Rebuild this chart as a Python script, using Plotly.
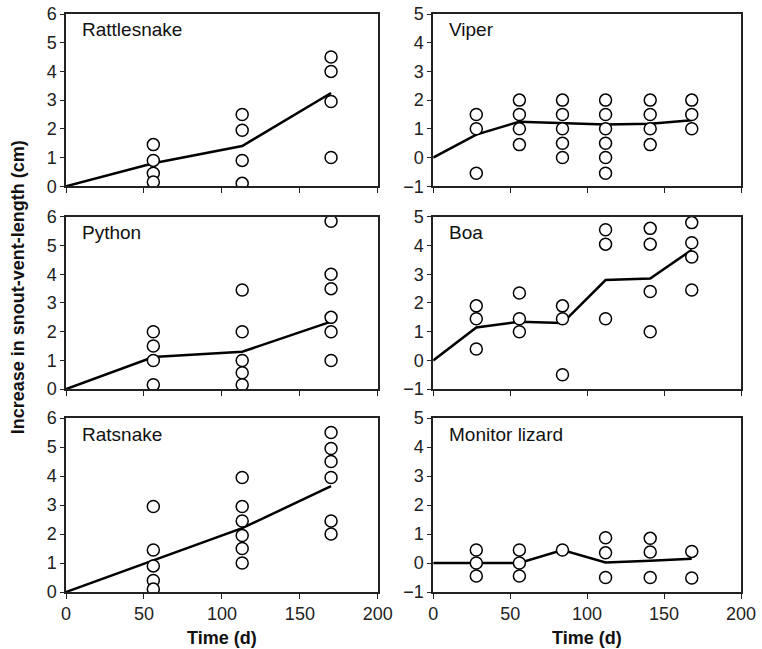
import plotly.graph_objects as go
from plotly.subplots import make_subplots

# individual measurements (day, increase in SVL cm)
rattle_x = [56, 56, 56, 56, 113, 113, 113, 113, 170, 170, 170, 170]
rattle_y = [1.45, 0.9, 0.45, 0.15, 2.5, 1.95, 0.9, 0.1, 4.5, 4.0, 2.95, 1.0]
rattle_mean_x = [0, 56, 113, 170]
rattle_mean_y = [0, 0.8, 1.4, 3.25]

viper_x = [28, 28, 28, 56, 56, 56, 56, 84, 84, 84, 84, 84,
           112, 112, 112, 112, 112, 112, 141, 141, 141, 141, 168, 168, 168]
viper_y = [1.5, 1.0, -0.55, 2.0, 1.5, 1.0, 0.45, 2.0, 1.5, 1.0, 0.5, 0.0,
           2.0, 1.5, 1.0, 0.5, 0.0, -0.55, 2.0, 1.5, 1.0, 0.45, 2.0, 1.5, 1.0]
viper_mean_x = [0, 28, 56, 84, 112, 141, 168]
viper_mean_y = [0, 0.8, 1.25, 1.2, 1.15, 1.18, 1.3]

python_x = [56, 56, 56, 56, 113, 113, 113, 113, 113, 170, 170, 170, 170, 170, 170]
python_y = [2.0, 1.5, 1.0, 0.15, 3.45, 2.0, 1.0, 0.57, 0.15, 5.85, 4.0, 3.5, 2.5, 2.0, 1.0]
python_mean_x = [0, 56, 113, 170]
python_mean_y = [0, 1.12, 1.3, 2.35]

boa_x = [28, 28, 28, 56, 56, 56, 84, 84, 84, 112, 112, 112,
         141, 141, 141, 141, 168, 168, 168, 168]
boa_y = [1.9, 1.45, 0.4, 2.35, 1.45, 1.0, 1.9, 1.45, -0.5, 4.55, 4.05, 1.45,
         4.6, 4.05, 2.4, 1.0, 4.8, 4.1, 3.6, 2.45]
boa_mean_x = [0, 28, 56, 84, 112, 141, 168]
boa_mean_y = [0, 1.15, 1.35, 1.3, 2.8, 2.85, 3.85]

rat_x = [56, 56, 56, 56, 56, 113, 113, 113, 113, 113, 113,
         170, 170, 170, 170, 170, 170]
rat_y = [2.95, 1.45, 0.9, 0.4, 0.1, 3.95, 2.95, 2.45, 1.95, 1.5, 1.0,
         5.5, 4.95, 4.5, 3.95, 2.45, 2.0]
rat_mean_x = [0, 56, 113, 170]
rat_mean_y = [0, 1.1, 2.2, 3.65]

monitor_x = [28, 28, 28, 56, 56, 56, 84, 112, 112, 112, 141, 141, 141, 168, 168]
monitor_y = [0.45, 0.0, -0.45, 0.45, 0.0, -0.45, 0.45, 0.87, 0.35, -0.5,
             0.85, 0.38, -0.5, 0.4, -0.52]
monitor_mean_x = [0, 28, 56, 84, 112, 141, 168]
monitor_mean_y = [0, 0, 0, 0.45, 0.02, 0.08, 0.15]

panels = [
    ("Rattlesnake", rattle_x, rattle_y, rattle_mean_x, rattle_mean_y, [0, 6], 1, 1),
    ("Viper", viper_x, viper_y, viper_mean_x, viper_mean_y, [-1, 5], 1, 2),
    ("Python", python_x, python_y, python_mean_x, python_mean_y, [0, 6], 2, 1),
    ("Boa", boa_x, boa_y, boa_mean_x, boa_mean_y, [-1, 5], 2, 2),
    ("Ratsnake", rat_x, rat_y, rat_mean_x, rat_mean_y, [0, 6], 3, 1),
    ("Monitor lizard", monitor_x, monitor_y, monitor_mean_x, monitor_mean_y, [-1, 5], 3, 2),
]

FONT = "Liberation Sans, Arial, sans-serif"

fig = make_subplots(rows=3, cols=2)

col_domains = {1: [0, 0.462], 2: [0.544, 1.0]}
row_domains = {1: [0.702, 1.0], 2: [0.351, 0.649], 3: [0.0, 0.301]}

for name, px, py, mx, my, yr, r, c in panels:
    fig.add_trace(go.Scatter(x=mx, y=my, mode="lines",
                             line=dict(color="black", width=2.5),
                             showlegend=False, hoverinfo="skip"), row=r, col=c)
    fig.add_trace(go.Scatter(x=px, y=py, mode="markers",
                             marker=dict(symbol="circle", size=12, color="white",
                                         line=dict(color="black", width=1.5)),
                             showlegend=False), row=r, col=c)
    fig.update_xaxes(range=[0, 200], tickvals=[0, 50, 100, 150, 200],
                     showticklabels=(r == 3), ticks="outside", ticklen=5,
                     tickcolor="#222", showline=True, linecolor="#222",
                     linewidth=1.5, mirror=True, showgrid=False, zeroline=False,
                     domain=col_domains[c], automargin=False,
                     tickfont=dict(family=FONT, size=18, color="#222"),
                     row=r, col=c)
    fig.update_yaxes(range=yr, dtick=1, ticks="outside", ticklen=4,
                     tickcolor="#222", showline=True, linecolor="#222",
                     linewidth=1.5, mirror=True, showgrid=False, zeroline=False,
                     domain=row_domains[r], automargin=False,
                     tickfont=dict(family=FONT, size=18, color="#222"),
                     row=r, col=c)
    idx = (r - 1) * 2 + c
    suffix = "" if idx == 1 else str(idx)
    fig.add_annotation(text=name, xref=f"x{suffix} domain", yref=f"y{suffix} domain",
                       x=0.045, y=0.98, xanchor="left", yanchor="top", showarrow=False,
                       font=dict(family=FONT, size=19, color="#111"))

fig.add_annotation(text="<b>Increase in snout-vent-length (cm)</b>", textangle=-90,
                   xref="paper", yref="paper", x=-0.072, y=0.528, xanchor="center",
                   yanchor="middle", showarrow=False,
                   font=dict(family=FONT, size=18, color="#111"))
for xc in [0.231, 0.772]:
    fig.add_annotation(text="<b>Time (d)</b>", xref="paper", yref="paper",
                       x=xc, y=-0.080, xanchor="center", yanchor="middle",
                       showarrow=False, font=dict(family=FONT, size=18, color="#111"))

fig.update_layout(width=762, height=649, plot_bgcolor="white", paper_bgcolor="white",
                  margin=dict(l=66, r=21, t=14, b=57, autoexpand=False))

# drop the default 8px body margin so the figure sits at the window corner
fig.write_html("out.html", config={"displayModeBar": False},
               post_script="document.body.style.margin = '0';")
